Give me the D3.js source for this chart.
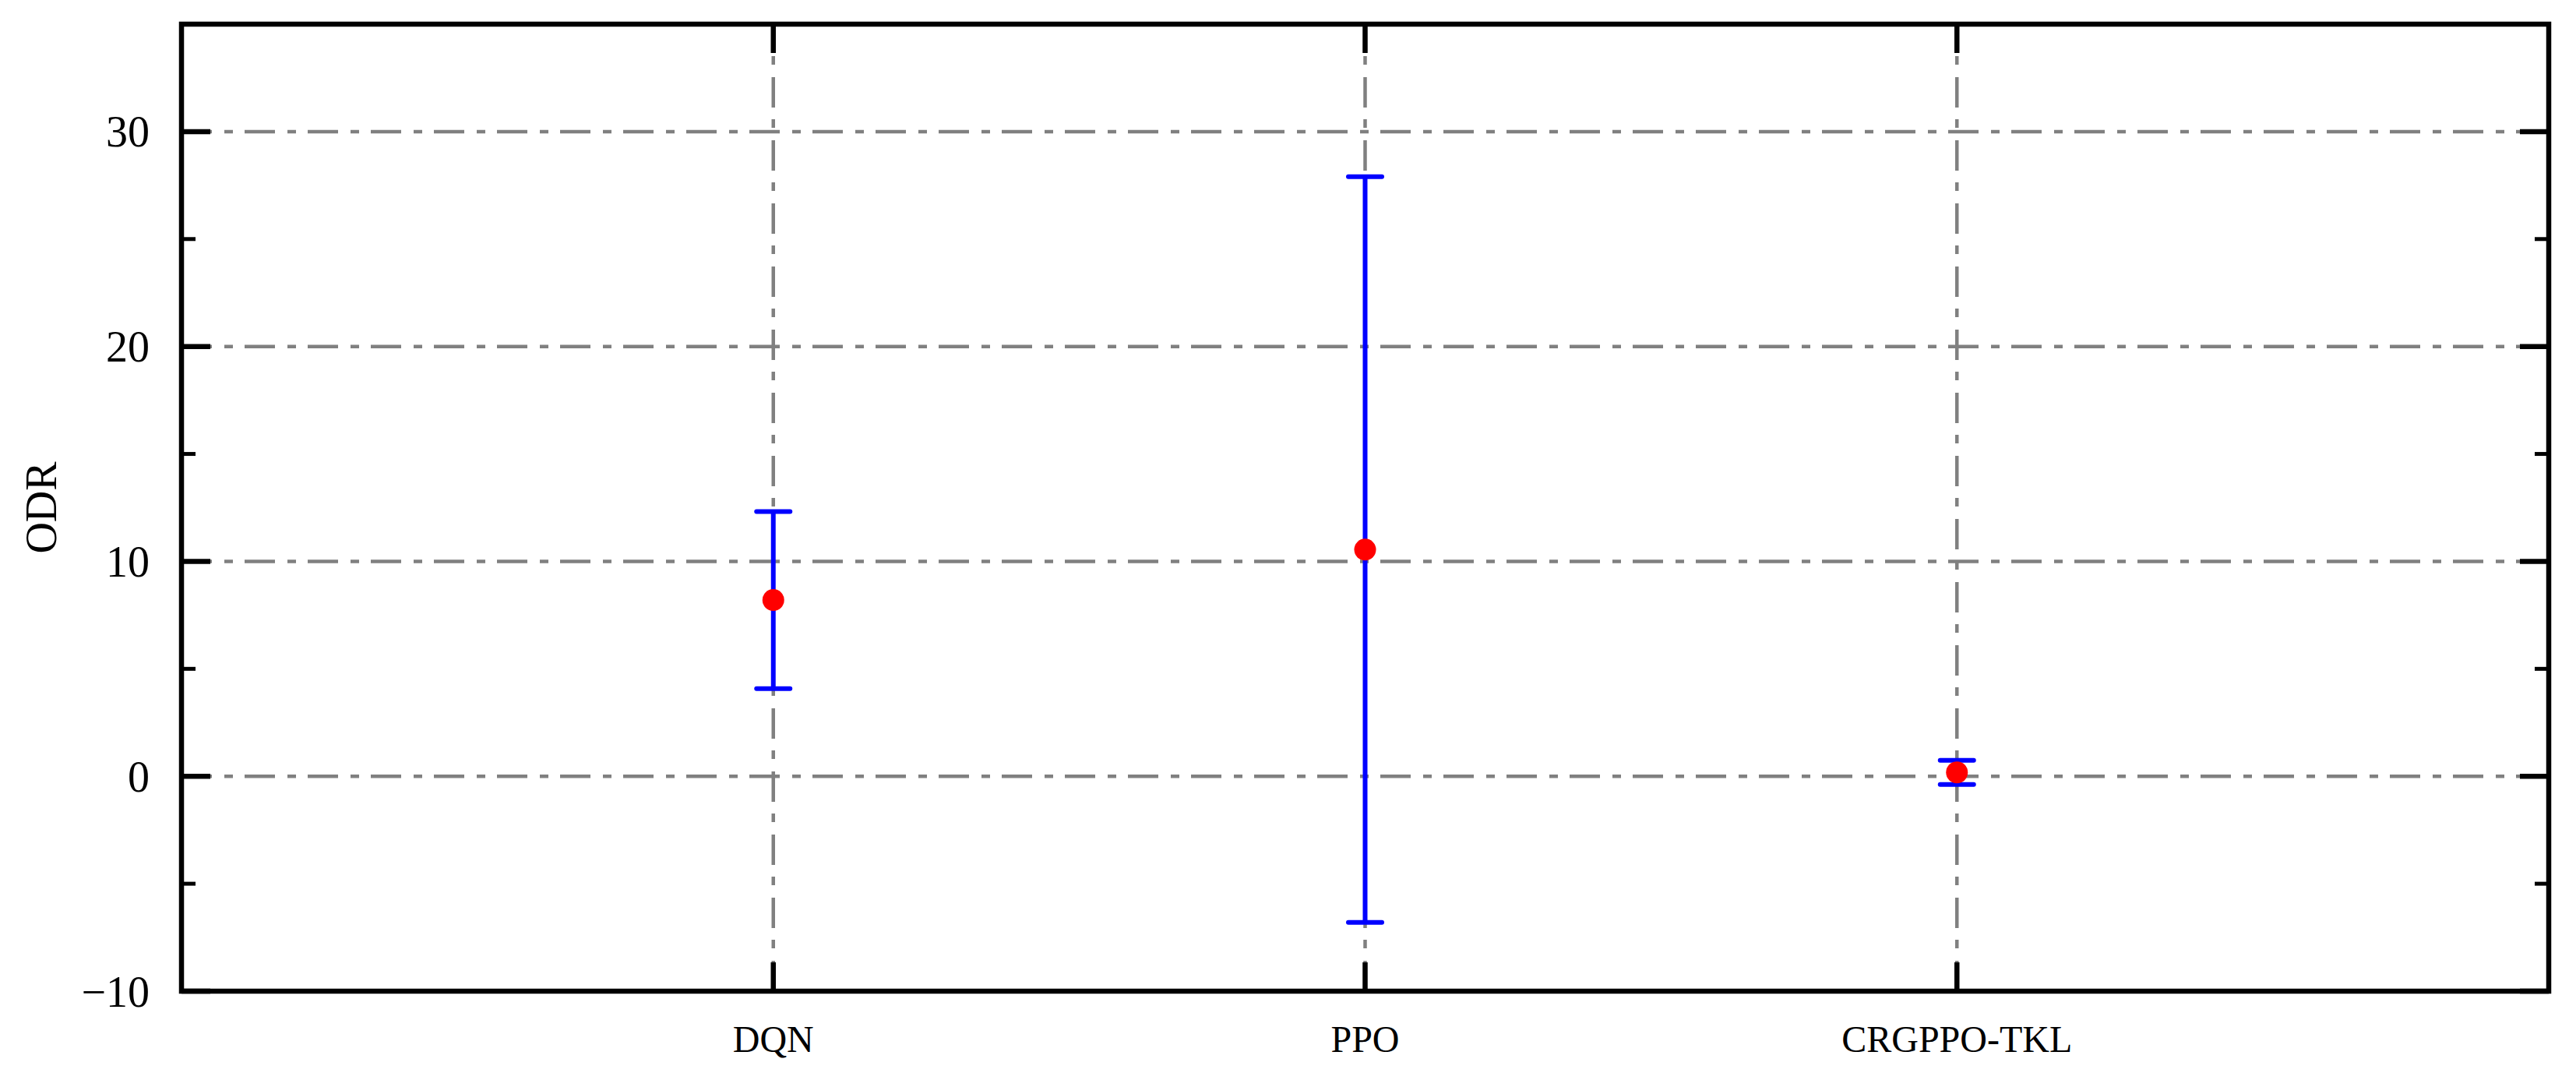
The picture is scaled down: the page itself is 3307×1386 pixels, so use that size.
<!DOCTYPE html>
<html>
<head>
<meta charset="utf-8">
<script src="https://cdn.jsdelivr.net/npm/d3@7"></script>
<style>
  html, body { margin: 0; padding: 0; background: #fff; }
  text { font-family: "Liberation Serif", "Times New Roman", serif; fill: #000; }
</style>
</head>
<body>
<svg id="chart" width="3307" height="1386"></svg>
<script>
// data
const methods = ['DQN', 'PPO', 'CRGPPO-TKL'];
const means = [8.2, 10.55, 0.18];
const errors = [4.12, 17.35, 0.56];
const yTicks = [-10, 0, 10, 20, 30];
const yMinorTicks = [-5, 5, 15, 25];

const width = 3307, height = 1386;
const margin = { left: 233, right: 35, top: 31, bottom: 114 };

const svg = d3.select('#chart');

const x = d3.scalePoint()
    .domain(methods)
    .range([margin.left, width - margin.right])
    .padding(1);

const y = d3.scaleLinear()
    .domain([-10, 35])
    .range([height - margin.bottom, margin.top]);

const x0 = margin.left, x1 = width - margin.right;
const y0 = height - margin.bottom, y1 = margin.top;

const gridDash = '39,16,11,15';

// grid lines
const grid = svg.append('g')
    .attr('stroke', '#808080')
    .attr('stroke-width', 4.5)
    .attr('stroke-dasharray', gridDash);

grid.selectAll('line.h')
    .data(yTicks.filter(d => d > -10))
    .enter()
    .append('line')
    .attr('class', 'h')
    .attr('x1', x0).attr('x2', x1)
    .attr('y1', d => y(d)).attr('y2', d => y(d));

grid.selectAll('line.v')
    .data(methods)
    .enter()
    .append('line')
    .attr('class', 'v')
    .attr('x1', d => x(d)).attr('x2', d => x(d))
    .attr('y1', y0).attr('y2', y1);

// ticks (inward, on all four sides)
const ticks = svg.append('g').attr('stroke', '#000');
const majorLen = 37, minorLen = 18;

yTicks.forEach(v => {
    ticks.append('line').attr('x1', x0).attr('x2', x0 + majorLen)
        .attr('y1', y(v)).attr('y2', y(v)).attr('stroke-width', 6.5);
    ticks.append('line').attr('x1', x1).attr('x2', x1 - majorLen)
        .attr('y1', y(v)).attr('y2', y(v)).attr('stroke-width', 6.5);
});
yMinorTicks.forEach(v => {
    ticks.append('line').attr('x1', x0).attr('x2', x0 + minorLen)
        .attr('y1', y(v)).attr('y2', y(v)).attr('stroke-width', 5);
    ticks.append('line').attr('x1', x1).attr('x2', x1 - minorLen)
        .attr('y1', y(v)).attr('y2', y(v)).attr('stroke-width', 5);
});
methods.forEach(m => {
    ticks.append('line').attr('x1', x(m)).attr('x2', x(m))
        .attr('y1', y0).attr('y2', y0 - majorLen).attr('stroke-width', 6.5);
    ticks.append('line').attr('x1', x(m)).attr('x2', x(m))
        .attr('y1', y1).attr('y2', y1 + majorLen).attr('stroke-width', 6.5);
});

// frame
svg.append('rect')
    .attr('x', x0).attr('y', y1)
    .attr('width', x1 - x0).attr('height', y0 - y1)
    .attr('fill', 'none')
    .attr('stroke', '#000')
    .attr('stroke-width', 6.5);

// y tick labels
svg.append('g')
    .selectAll('text')
    .data(yTicks)
    .enter()
    .append('text')
    .attr('x', 192)
    .attr('y', d => y(d))
    .attr('dy', '0.35em')
    .attr('text-anchor', 'end')
    .attr('font-size', 56)
    .text(d => d3.format('d')(d));

// x tick labels
svg.append('g')
    .selectAll('text')
    .data(methods)
    .enter()
    .append('text')
    .attr('x', d => x(d))
    .attr('y', 1350)
    .attr('text-anchor', 'middle')
    .attr('font-size', 48)
    .text(d => d);

// y axis title
svg.append('text')
    .attr('transform', `translate(72,${(y0 + y1) / 2}) rotate(-90)`)
    .attr('text-anchor', 'middle')
    .attr('font-size', 56)
    .text('ODR');

// error bars
const rows = methods.map((m, i) => ({ name: m, mean: means[i], err: errors[i] }));
const capHalf = 21.5;

const eb = svg.append('g')
    .attr('stroke', '#0000ff')
    .attr('stroke-width', 6);

eb.selectAll('line.stem')
    .data(rows)
    .enter()
    .append('line')
    .attr('x1', d => x(d.name)).attr('x2', d => x(d.name))
    .attr('y1', d => y(d.mean - d.err)).attr('y2', d => y(d.mean + d.err));

eb.selectAll('line.capTop')
    .data(rows)
    .enter()
    .append('line')
    .attr('x1', d => x(d.name) - capHalf).attr('x2', d => x(d.name) + capHalf)
    .attr('y1', d => y(d.mean + d.err)).attr('y2', d => y(d.mean + d.err))
    .attr('stroke-linecap', 'round');

eb.selectAll('line.capBot')
    .data(rows)
    .enter()
    .append('line')
    .attr('x1', d => x(d.name) - capHalf).attr('x2', d => x(d.name) + capHalf)
    .attr('y1', d => y(d.mean - d.err)).attr('y2', d => y(d.mean - d.err))
    .attr('stroke-linecap', 'round');

// mean markers
svg.append('g')
    .selectAll('circle')
    .data(rows)
    .enter()
    .append('circle')
    .attr('cx', d => x(d.name))
    .attr('cy', d => y(d.mean))
    .attr('r', 14)
    .attr('fill', '#ff0000');
</script>
</body>
</html>
